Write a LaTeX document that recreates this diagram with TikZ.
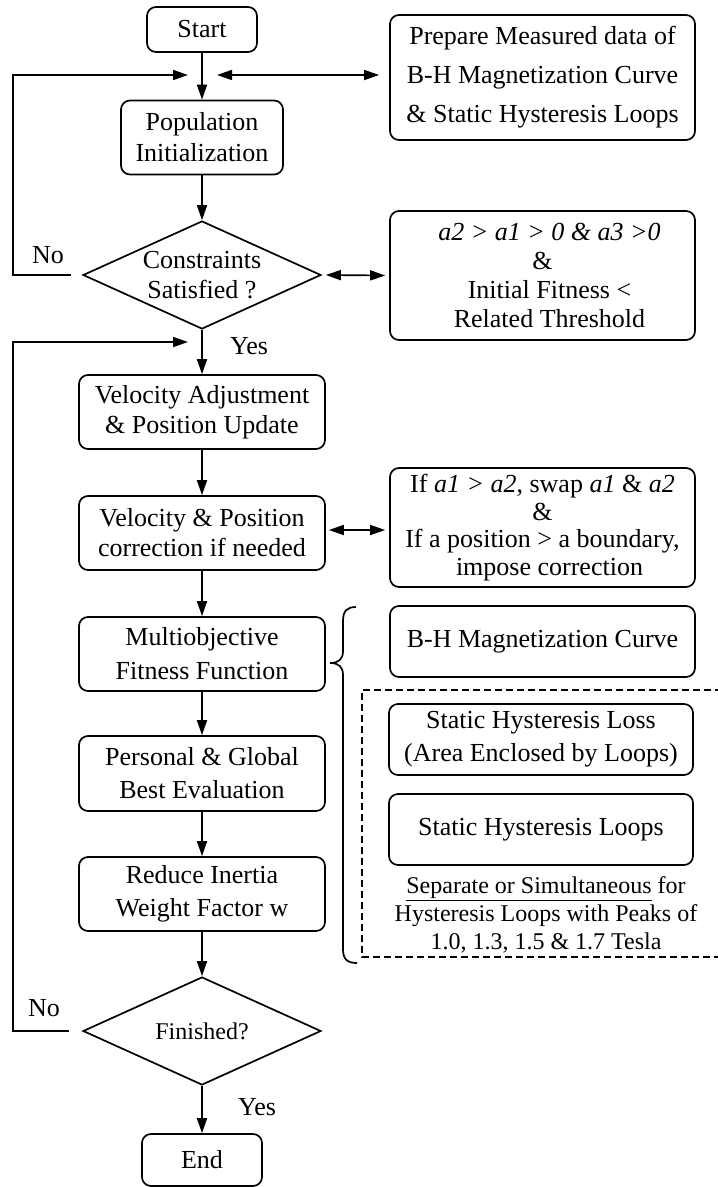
\documentclass[tikz,border=0pt]{standalone}
\usepackage{fontspec}
\setmainfont{Liberation Serif}
\usetikzlibrary{arrows.meta,shapes.geometric}

\tikzset{
  box/.style={draw, line width=1.7pt, rounded corners=9pt, align=center, inner sep=0pt},
  dia/.style={draw, line width=1.7pt, shape=diamond, inner sep=0pt,
              minimum width=238pt, minimum height=108pt},
  arr/.style={line width=1.7pt, -{Triangle[length=15pt,width=10pt]}},
  darr/.style={line width=1.7pt, {Triangle[length=15pt,width=10pt]}-{Triangle[length=15pt,width=10pt]}},
  link/.style={line width=1.7pt},
  txt/.style={align=center, inner sep=0pt},
  fs/.style={font=\fontsize{26}{#1}\selectfont},
}

\begin{document}
\begin{tikzpicture}[x=1pt, y=-1pt]
\useasboundingbox (0,0) rectangle (718,1187);

% ---- main column ----
\node[box, fs=30, minimum width=110pt, minimum height=45pt] (start) at (202,29.5) {Start};
\coordinate (j1) at (202,75);
\node[box, fs=31, minimum width=162pt, minimum height=74pt] (pop) at (202,137.5) {Population\\Initialization};
\node[dia, label={[txt, fs=30]center:Constraints\\Satisfied ?}] (con) at (202,275) {};
\coordinate (j2) at (202,342);
\node[box, fs=30, minimum width=246pt, minimum height=74pt] (vel) at (202,412) {Velocity Adjustment\\\& Position Update};
\node[box, fs=30, minimum width=246pt, minimum height=74pt] (vp) at (202,533) {Velocity \& Position\\correction if needed};
\node[box, fs=34, minimum width=246pt, minimum height=74pt] (mo) at (202,654) {Multiobjective\\Fitness Function};
\node[box, fs=33, minimum width=246pt, minimum height=75pt] (pe) at (202,773.5) {Personal \& Global\\Best Evaluation};
\node[box, fs=33, minimum width=246pt, minimum height=74pt] (re) at (202,894) {Reduce Inertia\\Weight Factor w};
\node[dia, label={[txt, font=\fontsize{24}{28}\selectfont]center:Finished?}] (fin) at (202,1031) {};
\node[box, fs=30, minimum width=120pt, minimum height=52pt] (end) at (202,1160) {End};

% ---- side boxes ----
\node[box, fs=39, minimum width=305pt, minimum height=125pt] (prep) at (542.5,77.5)
  {Prepare Measured data of\\B-H Magnetization Curve\\\& Static Hysteresis Loops};
\node[box, fs=29, minimum width=305pt, minimum height=129pt] (cbox) at (542.5,275.5)
  {\hspace*{14pt}\textit{a2 > a1 > 0 \& a3 >0}\\\&\\\hspace*{14pt}Initial Fitness <\\\hspace*{14pt}Related Threshold};
\node[box, fs=27.5, minimum width=305pt, minimum height=119pt] (ifbox) at (542.5,527.5)
  {If \textit{a1 > a2}, swap \textit{a1} \& \textit{a2}\\\&\\If a position > a boundary,\\\hspace*{14pt}impose correction};
\node[box, fs=30, minimum width=305pt, minimum height=71pt] (bh) at (542.5,641.5) {B-H Magnetization Curve};
\node[box, fs=33, minimum width=304pt, minimum height=71pt] (sl) at (541,739.5) {Static Hysteresis Loss\\(Area Enclosed by Loops)};
\node[box, fs=30, minimum width=304pt, minimum height=71pt] (slp) at (541,829.5) {Static Hysteresis Loops};
\node[txt, font=\fontsize{24}{28}\selectfont] (note) at (546,915)
  {\underline{Separate or Simultaneous} for\\Hysteresis Loops with Peaks of\\1.0, 1.3, 1.5 \& 1.7 Tesla};

% ---- branch labels ----
\node[txt, fs=30] (no1) at (48,255) {No};
\node[txt, fs=30] (yes1) at (249,346) {Yes};
\node[txt, fs=30] (no2) at (44,1008) {No};
\node[txt, fs=30] (yes2) at (257,1107) {Yes};

% ---- main flow ----
\draw[arr] (start.south) -- (pop.north);
\draw[arr] (pop.south) -- (con.north);
\draw[arr] (con.south) -- (vel.north);
\draw[arr] (vel.south) -- (vp.north);
\draw[arr] (vp.south) -- (mo.north);
\draw[arr] (mo.south) -- (pe.north);
\draw[arr] (pe.south) -- (re.north);
\draw[arr] (re.south) -- (fin.north);
\draw[arr] (fin.south) -- (end.north);

% ---- feedback loops ----
\draw[arr] ([xshift=-11pt]con.west) -- ++(-58,0) |- ([xshift=-14pt]j1);
\draw[arr] ([xshift=-13pt]fin.west) -- ++(-56,0) |- ([xshift=-14pt]j2);

% ---- two-way links to side boxes ----
\draw[darr] ([xshift=15pt]j1) -- ([xshift=-10pt]j1 -| prep.west);
\draw[darr] ([xshift=4pt]con.east) -- ([xshift=-4pt]cbox.west);
\draw[darr] ([xshift=3pt,yshift=3pt]vp.east) -- ([xshift=-4pt,yshift=3pt]vp.east -| ifbox.west);

% ---- brace grouping the fitness terms ----
\draw[link] (356,607) .. controls (347,607) and (343,611) .. (343,621)
  -- (343,651) .. controls (343,659) and (339,663) .. (330,663)
  .. controls (339,663) and (343,667) .. (343,675)
  -- (343,949) .. controls (343,959) and (347,963) .. (357,963);

% ---- dashed frame around the hysteresis terms ----
\draw[line width=2.6pt, dash pattern=on 7pt off 4pt] (722,690) -| (362,957) -- (722,957);
\end{tikzpicture}
\end{document}
